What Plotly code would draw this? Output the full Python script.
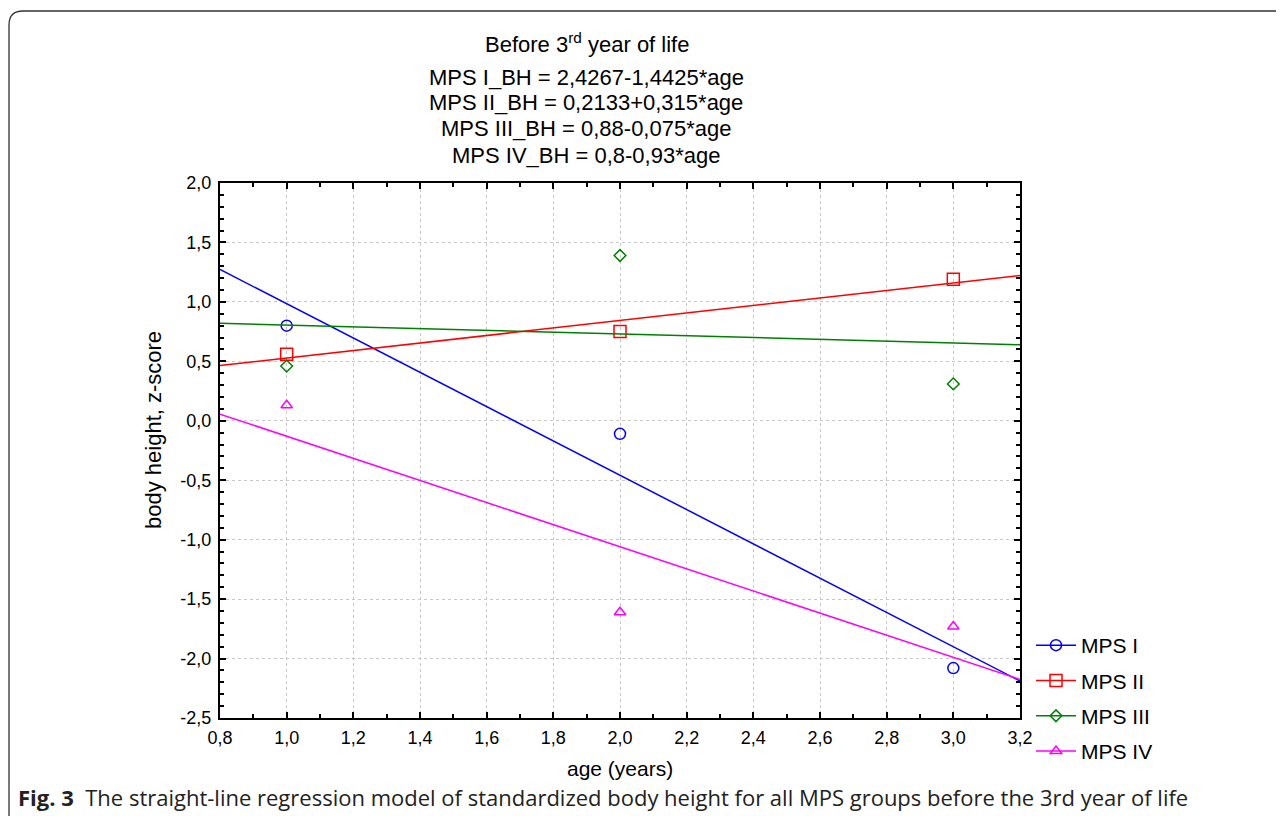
import plotly.graph_objects as go

# ---- data ----
ages = [1.0, 2.0, 3.0]
groups = ["MPS I", "MPS II", "MPS III", "MPS IV"]
mps1 = [0.80, -0.11, -2.08]
mps2 = [0.56, 0.75, 1.19]
mps3 = [0.46, 1.39, 0.31]
mps4 = [0.13, -1.61, -1.73]
intercepts = [2.4267, 0.2133, 0.88, 0.8]
slopes = [-1.4425, 0.315, -0.075, -0.93]
equations = [
    "MPS I_BH = 2,4267-1,4425*age",
    "MPS II_BH = 0,2133+0,315*age",
    "MPS III_BH = 0,88-0,075*age",
    "MPS IV_BH = 0,8-0,93*age",
]
x_ticks = [0.8, 1.0, 1.2, 1.4, 1.6, 1.8, 2.0, 2.2, 2.4, 2.6, 2.8, 3.0, 3.2]
x_ticklabels = ["0,8", "1,0", "1,2", "1,4", "1,6", "1,8", "2,0", "2,2", "2,4", "2,6", "2,8", "3,0", "3,2"]
x_minor = [0.9, 1.1, 1.3, 1.5, 1.7, 1.9, 2.1, 2.3, 2.5, 2.7, 2.9, 3.1]
y_ticks = [2.0, 1.5, 1.0, 0.5, 0.0, -0.5, -1.0, -1.5, -2.0, -2.5]
y_ticklabels = ["2,0", "1,5", "1,0", "0,5", "0,0", "-0,5", "-1,0", "-1,5", "-2,0", "-2,5"]
x_range = [0.8, 3.2]
y_range = [-2.5, 2.0]

colors = ["#0000FF", "#FF0000", "#008000", "#FF00FF"]
symbols = ["circle-open", "square-open", "diamond-open", "triangle-up-open"]
msizes = [11, 12, 9, 10]
series = [mps1, mps2, mps3, mps4]

# page has an 8px body margin: figure occupies page pixels 8..1284 x 8..816
OFF = 8
W, H = 1284 - OFF, 816 - OFF
L, R, T, B = 220, 1020, 183, 718   # plot area in page pixels

def px(x):
    return (x - L) / (R - L)

def py(y):
    return (B - y) / (B - T)

FONT = "Liberation Sans, Arial, Helvetica, sans-serif"

fig = go.Figure()
for name, vals, c, s, ms, a, b in zip(groups, series, colors, symbols, msizes, intercepts, slopes):
    xs = list(x_range)
    ys = [a + b * x for x in xs]
    fig.add_trace(go.Scatter(x=xs, y=ys, mode="lines", line=dict(color=c, width=1.5),
                             showlegend=False, hoverinfo="skip"))
    fig.add_trace(go.Scatter(x=ages, y=vals, mode="markers", name=name,
                             marker=dict(symbol=s, size=ms, color=c, line=dict(width=1.5, color=c)),
                             showlegend=False))
    fig.add_trace(go.Scatter(x=[None], y=[None], mode="lines+markers", name=name, legendgroup=name,
                             line=dict(color=c, width=1.5),
                             marker=dict(symbol=s, size=ms, color=c, line=dict(width=1.5, color=c))))

axis_common = dict(showline=True, linewidth=2, linecolor="black", mirror="ticks",
                   ticks="inside", ticklen=6, tickwidth=2, tickcolor="black",
                   showgrid=True, gridcolor="#c8c8c8", griddash="dot", gridwidth=1,
                   zeroline=False, tickfont=dict(family=FONT, size=18, color="black"))

fig.update_xaxes(range=x_range, tickvals=x_ticks, ticktext=x_ticklabels, ticklabelstandoff=2,
                 minor=dict(tickvals=x_minor, ticks="inside",
                            ticklen=4, tickwidth=1.5, tickcolor="black", showgrid=False),
                 **axis_common)
fig.update_yaxes(range=y_range, tickvals=y_ticks, ticktext=y_ticklabels, ticklabelstandoff=3,
                 minor=dict(dtick=0.1, ticks="inside", ticklen=4, tickwidth=1.5,
                            tickcolor="black", showgrid=False),
                 **axis_common)

annotations = []
annotations.append(dict(text="Before 3<sup>rd</sup> year of life", x=px(587), y=py(43),
                        xref="paper", yref="paper", showarrow=False, xanchor="center", yanchor="middle",
                        font=dict(family=FONT, size=22, color="black")))
for i, eq in enumerate(equations):
    annotations.append(dict(text=eq, x=px(586), y=py(77 + 26 * i), xref="paper", yref="paper",
                            showarrow=False, xanchor="center", yanchor="middle",
                            font=dict(family=FONT, size=22, color="black")))
annotations.append(dict(text="body height, z-score", x=px(153), y=py(430), xref="paper", yref="paper",
                        showarrow=False, textangle=-90, xanchor="center", yanchor="middle",
                        font=dict(family=FONT, size=22, color="black")))
annotations.append(dict(text="age (years)", x=px(620), y=py(768), xref="paper", yref="paper",
                        showarrow=False, xanchor="center", yanchor="middle",
                        font=dict(family=FONT, size=21, color="black")))
annotations.append(dict(text="<b>Fig. 3</b>  The straight-line regression model of standardized body height for all MPS groups before the 3rd year of life",
                        x=px(16), y=py(797), xref="paper", yref="paper", showarrow=False,
                        xanchor="left", yanchor="middle",
                        font=dict(family="Open Sans, Noto Sans, sans-serif", size=22, color="#222")))

rr = 14
path = (f"M {px(9)},{py(840)} L {px(9)},{py(11 + rr)} "
        f"Q {px(9)},{py(11)} {px(9 + rr)},{py(11)} L {px(1320)},{py(11)}")

fig.update_layout(
    width=W, height=H,
    margin=dict(l=L - OFF, r=W - (R - OFF), t=T - OFF, b=H - (B - OFF), pad=0),
    paper_bgcolor="white", plot_bgcolor="white",
    annotations=annotations,
    shapes=[dict(type="path", path=path, xref="paper", yref="paper",
                 line=dict(color="#333333", width=1.3))],
    legend=dict(x=px(1031), y=py(625), xanchor="left", yanchor="top",
                font=dict(family=FONT, size=21, color="black"),
                bgcolor="rgba(0,0,0,0)", itemwidth=40, tracegroupgap=5),
    showlegend=True,
)

fig.write_html("out.html")
